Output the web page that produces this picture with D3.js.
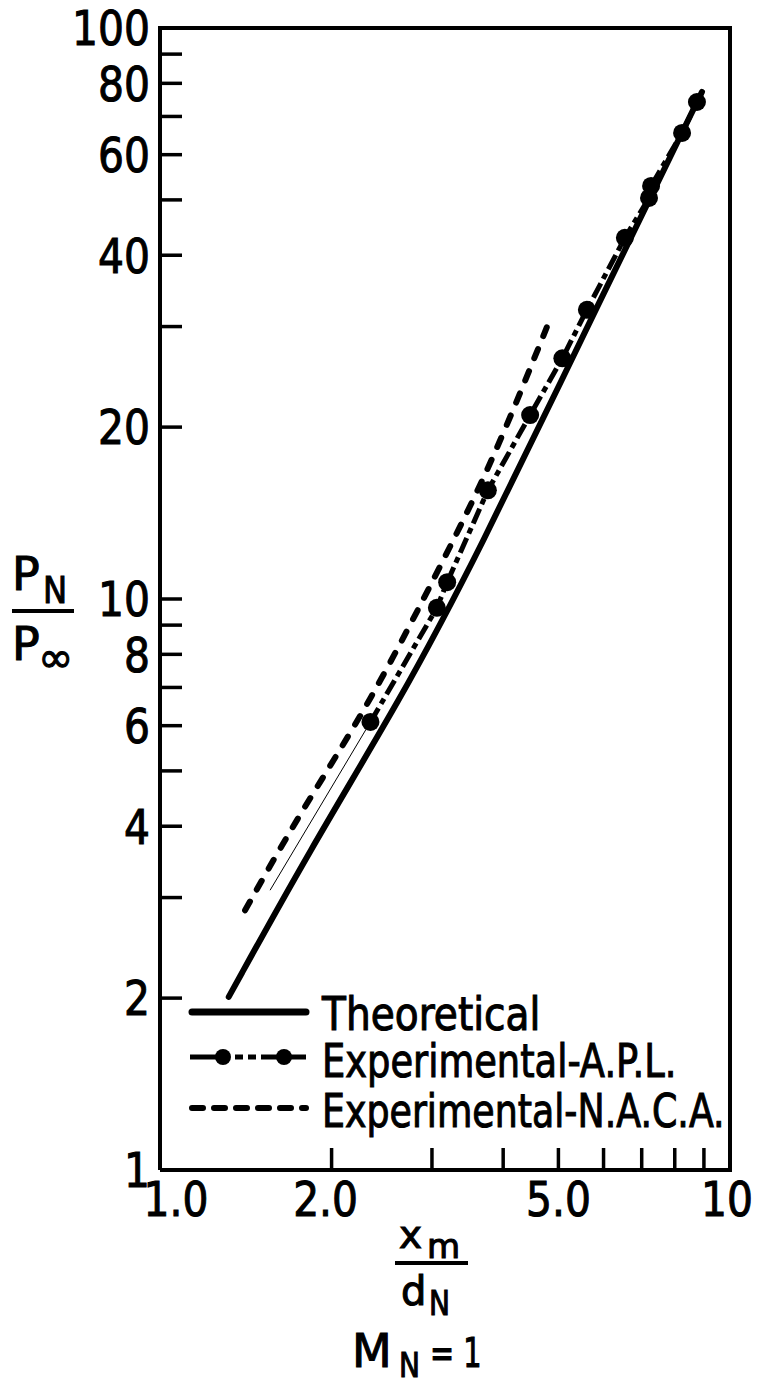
<!DOCTYPE html>
<meta charset="utf-8" />
<style>
  body { margin: 0; background: #fff; }
  svg { display: block; }
  text { font-family: "DejaVu Sans", sans-serif; fill: #000; stroke: #000; stroke-width: 1.1px; }
</style>
<body>
<script src="https://d3js.org/d3.v7.min.js"></script>
<script>

// values (x = xm/dN, y = PN/Pinf)
var theoX = [1.32, 1.83, 2.64, 3.57, 5.92, 8.93];
var theoY = [2.01, 3.63, 6.66, 11.7, 33.4, 77.3];

var aplX = [2.34, 3.06, 3.19, 3.76, 4.46, 5.08, 5.61, 6.54, 7.21, 7.27, 8.24, 8.75];
var aplY = [6.09, 9.65, 10.7, 15.5, 21.0, 26.4, 32.1, 42.9, 50.4, 52.9, 65.5, 74.2];

// faint pencil extension below the first A.P.L. point
var aplExtX = [1.56, 2.34];
var aplExtY = [3.09, 6.09];

var nacaX = [1.41, 1.76, 2.34, 3.19, 3.84, 4.77];
var nacaY = [2.85, 4.22, 6.58, 12.04, 17.5, 29.9];

var yTicks = [2, 3, 4, 5, 6, 7, 8, 9, 10, 20, 30, 40, 50, 60, 70, 80, 90];
var yLabels = [1, 2, 4, 6, 8, 10, 20, 40, 60, 80, 100];
var xTicks = [2, 3, 4, 5, 6, 7, 8, 9];
var xLabels = ["1.0", "2.0", "5.0", "10"];
var xLabelVals = [1, 2, 5, 10];

var legendNames = ["Theoretical", "Experimental-A.P.L.", "Experimental-N.A.C.A."];

var W = 758, H = 1389;
var pLeft = 160, pRight = 730, pTop = 28, pBottom = 1170;

var x = d3.scaleLog().domain([1, 10]).range([pLeft, pRight]);
var y = d3.scaleLog().domain([1, 100]).range([pBottom, pTop]);

var svg = d3.select("body").append("svg")
    .attr("width", W)
    .attr("height", H);

// squeeze text horizontally to look like the narrow lettering
function squeeze(sel, k) {
  sel.each(function() {
    var w = this.getComputedTextLength();
    d3.select(this).attr("textLength", w * k).attr("lengthAdjust", "spacingAndGlyphs");
  });
}

// frame
svg.append("path")
    .attr("d", "M" + pLeft + "," + pBottom + "V" + pTop + "H" + pRight + "V" + pBottom + "H" + pLeft)
    .attr("fill", "none")
    .attr("stroke", "#000")
    .attr("stroke-width", 4);

// ticks pointing inward
svg.append("g").selectAll("line")
    .data(yTicks)
  .enter().append("line")
    .attr("x1", pLeft).attr("x2", pLeft + 22)
    .attr("y1", function(d) { return y(d); })
    .attr("y2", function(d) { return y(d); })
    .attr("stroke", "#000").attr("stroke-width", 3.5);

svg.append("g").selectAll("line")
    .data(xTicks)
  .enter().append("line")
    .attr("y1", pBottom).attr("y2", pBottom - 22)
    .attr("x1", function(d) { return x(d); })
    .attr("x2", function(d) { return x(d); })
    .attr("stroke", "#000").attr("stroke-width", 3.5);

// tick labels
svg.append("g").selectAll("text")
    .data(yLabels)
  .enter().append("text")
    .attr("x", pLeft - 10)
    .attr("y", function(d) { return y(d); })
    .attr("dy", "0.36em")
    .attr("text-anchor", "end")
    .style("font-size", "48px")
    .text(function(d) { return d; })
    .call(squeeze, 0.85);

var xLabelDx = [16, -6, 0, -3];
svg.append("g").selectAll("text")
    .data(xLabels)
  .enter().append("text")
    .attr("x", function(d, i) { return x(xLabelVals[i]) + xLabelDx[i]; })
    .attr("y", 1216)
    .attr("text-anchor", "middle")
    .style("font-size", "48px")
    .text(function(d) { return d; })
    .call(squeeze, 0.85);

// series
var line = d3.line()
    .x(function(d) { return x(d[0]); })
    .y(function(d) { return y(d[1]); });

var theo = d3.zip(theoX, theoY);
var apl = d3.zip(aplX, aplY);
var aplExt = d3.zip(aplExtX, aplExtY);
var naca = d3.zip(nacaX, nacaY);

svg.append("path")
    .datum(aplExt)
    .attr("d", line)
    .attr("fill", "none")
    .attr("stroke", "#000")
    .attr("stroke-width", 1);

svg.append("path")
    .datum(naca)
    .attr("d", line.curve(d3.curveBasis))
    .attr("fill", "none")
    .attr("stroke", "#000")
    .attr("stroke-width", 6)
    .attr("stroke-linecap", "round")
    .attr("stroke-dasharray", "10,14");

svg.append("path")
    .datum(theo)
    .attr("d", line.curve(d3.curveBasis))
    .attr("fill", "none")
    .attr("stroke", "#000")
    .attr("stroke-width", 6)
    .attr("stroke-linecap", "round");

svg.append("path")
    .datum(apl)
    .attr("d", line.curve(d3.curveLinear))
    .attr("fill", "none")
    .attr("stroke", "#000")
    .attr("stroke-width", 5)
    .attr("stroke-dasharray", "16,5,6,5");

svg.append("g").selectAll("circle")
    .data(apl)
  .enter().append("circle")
    .attr("cx", function(d) { return x(d[0]); })
    .attr("cy", function(d) { return y(d[1]); })
    .attr("r", 9);

// legend
var lg = svg.append("g");
var rowY = [1012, 1057, 1108];
var textY = [1030, 1077, 1127];

lg.append("line")
    .attr("x1", 192).attr("x2", 306).attr("y1", rowY[0]).attr("y2", rowY[0])
    .attr("stroke", "#000").attr("stroke-width", 7).attr("stroke-linecap", "round");

lg.append("line")
    .attr("x1", 190).attr("x2", 306).attr("y1", rowY[1]).attr("y2", rowY[1])
    .attr("stroke", "#000").attr("stroke-width", 5)
    .attr("stroke-dasharray", "40,5,8,5,8,5,50");
lg.selectAll("circle")
    .data([223, 284])
  .enter().append("circle")
    .attr("cx", function(d) { return d; })
    .attr("cy", rowY[1])
    .attr("r", 8);

lg.append("line")
    .attr("x1", 192).attr("x2", 306).attr("y1", rowY[2]).attr("y2", rowY[2])
    .attr("stroke", "#000").attr("stroke-width", 6).attr("stroke-linecap", "round")
    .attr("stroke-dasharray", "11,11");

var legendSqueeze = [0.85, 0.8, 0.79];
lg.selectAll("text")
    .data(legendNames)
  .enter().append("text")
    .attr("x", 322)
    .attr("y", function(d, i) { return textY[i]; })
    .style("font-size", "46px")
    .text(function(d) { return d; })
    .each(function(d, i) { d3.select(this).call(squeeze, legendSqueeze[i]); });

// y axis title: PN / Pinf
var yt = svg.append("g");
yt.append("text").attr("x", 12).attr("y", 590).style("font-size", "46px").text("P");
yt.append("text").attr("x", 43).attr("y", 603).style("font-size", "38px").text("N")
    .call(squeeze, 0.85);
yt.append("line").attr("x1", 12).attr("x2", 74).attr("y1", 611).attr("y2", 611)
    .attr("stroke", "#000").attr("stroke-width", 4);
yt.append("text").attr("x", 12).attr("y", 660).style("font-size", "46px").text("P");
yt.append("text").attr("x", 38).attr("y", 672).style("font-size", "42px").text("\u221e");

// x axis title: xm / dN, MN = 1
var xt = svg.append("g");
xt.append("text").attr("x", 399).attr("y", 1248).style("font-size", "39px").text("x");
xt.append("text").attr("x", 427).attr("y", 1258).style("font-size", "34px").text("m");
xt.append("line").attr("x1", 395).attr("x2", 468).attr("y1", 1263).attr("y2", 1263)
    .attr("stroke", "#000").attr("stroke-width", 4);
xt.append("text").attr("x", 401).attr("y", 1305).style("font-size", "40px").text("d");
xt.append("text").attr("x", 429).attr("y", 1315).style("font-size", "33px").text("N")
    .call(squeeze, 0.85);
xt.append("text").attr("x", 352).attr("y", 1367).style("font-size", "46px").text("M");
xt.append("text").attr("x", 399).attr("y", 1377).style("font-size", "33px").text("N")
    .call(squeeze, 0.85);
xt.append("text").attr("x", 430).attr("y", 1367).style("font-size", "40px").text("= 1")
    .call(squeeze, 0.72);

</script>
</body>
